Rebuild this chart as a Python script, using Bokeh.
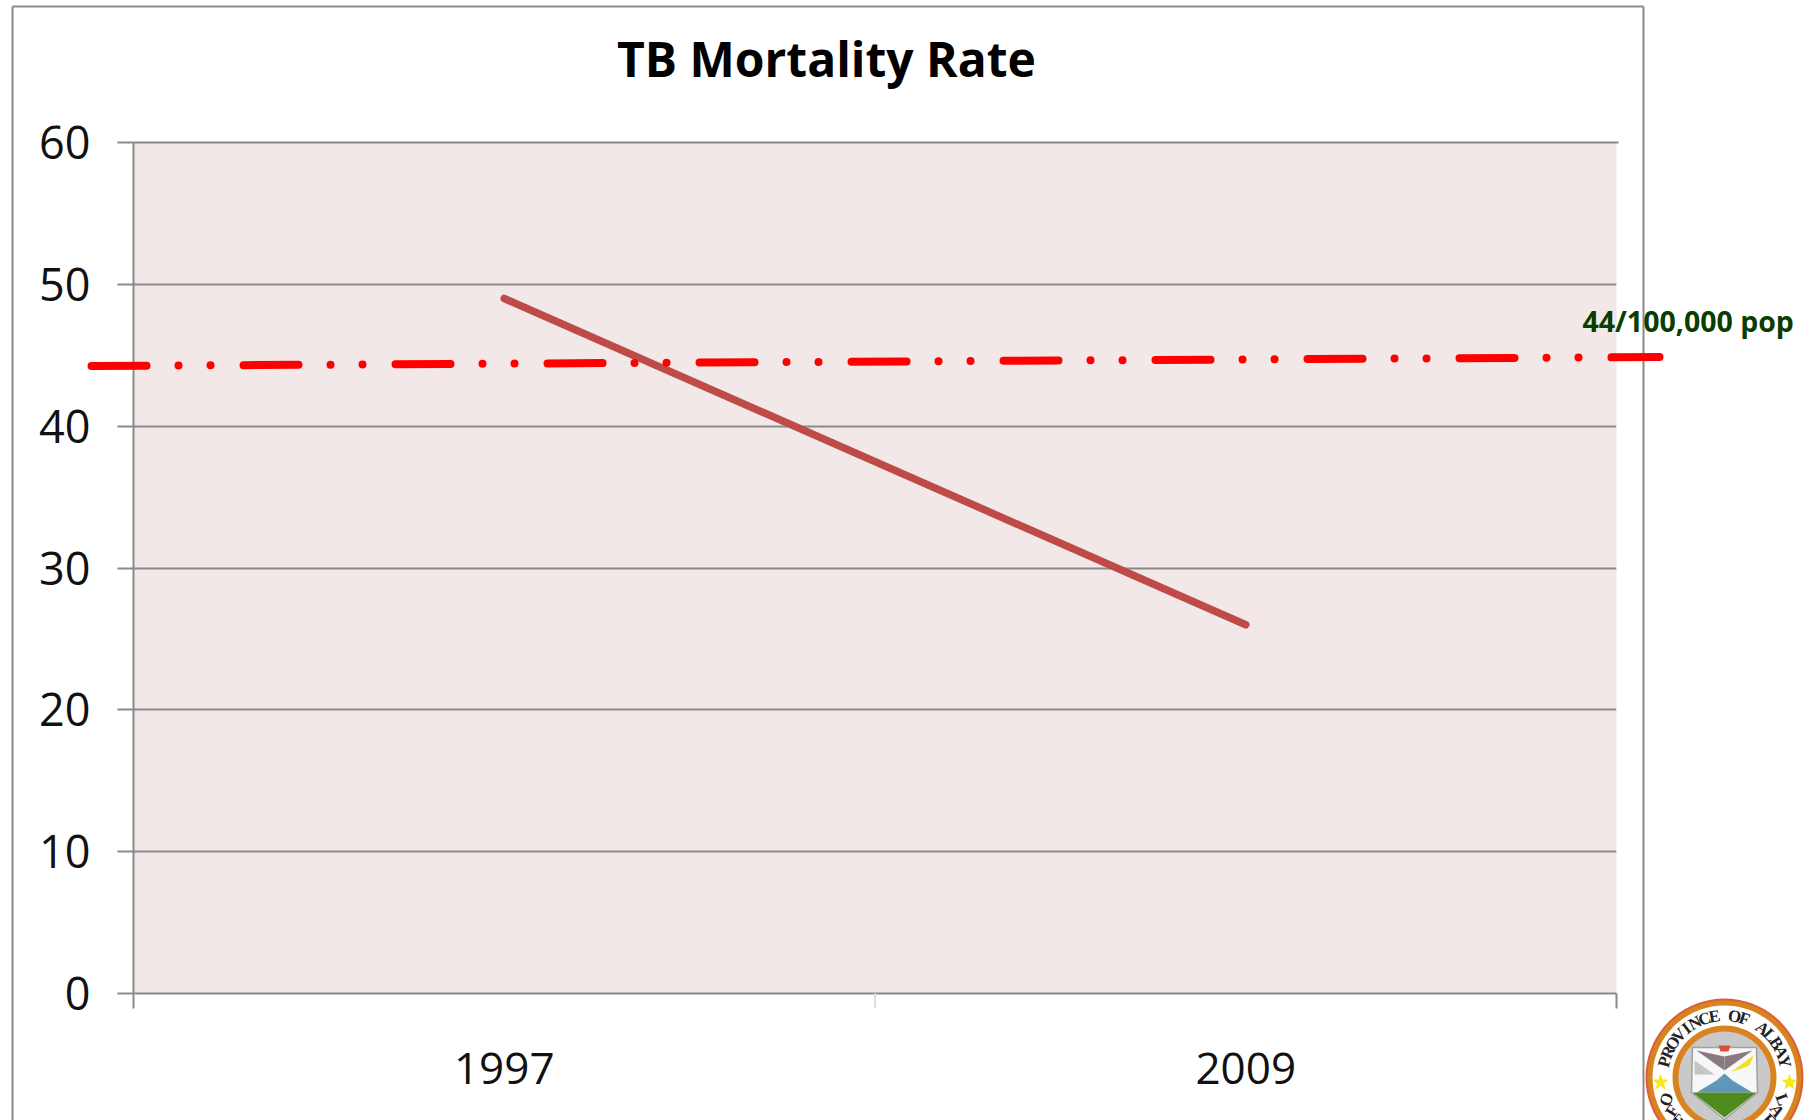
import math
from bokeh.plotting import figure
from bokeh.embed import file_html
from bokeh.resources import INLINE
from bokeh.core.properties import value
from bokeh.models import Range1d, FixedTicker

years = ["1997", "2009"]
mortality = [49, 26]
target_x = [-0.0566, 2.058]
target_y = [44.24, 44.87]
target_label = "44/100,000 pop"
y_ticks = [0, 10, 20, 30, 40, 50, 60]
title = "TB Mortality Rate"

W, H = 1805, 1120
GREY = "#8a8a8a"
L, R, T, B = 133, 1616, 142, 993
def dx(px): return (px - L) / ((R - L) / 2)
def dy(py): return (B - py) / ((B - T) / 60)

p = figure(width=W, height=H, output_backend="svg", toolbar_location=None,
           x_range=Range1d(0, 2), y_range=Range1d(0, 60),
           min_border_left=L, min_border_right=W - R, min_border_top=T, min_border_bottom=H - B,
           margin=0, background_fill_color="#f2e8e8", border_fill_color="white", outline_line_color=None)

xa = p.xaxis[0]
xa.ticker = FixedTicker(ticks=[0.5, 1.5], minor_ticks=[0, 2])
xa.major_label_overrides = {0.5: years[0], 1.5: years[1]}
xa.major_tick_line_color = None
xa.minor_tick_line_color = GREY
xa.minor_tick_line_width = 2
xa.minor_tick_out = 15
xa.minor_tick_in = 0
xa.axis_line_color = GREY
xa.axis_line_width = 2
xa.major_label_standoff = 44
xa.major_label_text_font = "Open Sans"
xa.major_label_text_font_size = "44px"
xa.major_label_text_color = "#111111"

ya = p.yaxis[0]
ya.ticker = FixedTicker(ticks=y_ticks)
ya.major_tick_out = 16
ya.major_tick_in = 0
ya.major_tick_line_color = GREY
ya.major_tick_line_width = 2
ya.minor_tick_line_color = None
ya.axis_line_color = GREY
ya.axis_line_width = 2
ya.major_label_standoff = 27
ya.major_label_text_font = "Open Sans"
ya.major_label_text_font_size = "45px"
ya.major_label_text_color = "#111111"

p.xgrid.visible = False
p.ygrid.ticker = FixedTicker(ticks=y_ticks)
p.ygrid.grid_line_color = GREY
p.ygrid.grid_line_width = 2

# top edge of the plot area, which the grid's clipping would halve
p.line([0, dx(R + 2)], [60, 60], line_color=GREY, line_width=2, level="overlay")

# outer panel
p.line([dx(12), dx(12)], [dy(1130), dy(6)], line_color=GREY, line_width=2, level="overlay")
p.line([dx(12), dx(1643)], [dy(6), dy(6)], line_color=GREY, line_width=2, level="overlay")
p.line([dx(1643), dx(1643)], [dy(6), dy(1130)], line_color=GREY, line_width=2, level="overlay")
# pale middle tick
p.line([1, 1], [0, dy(1008)], line_color="#dedede", line_width=2, level="overlay")

p.line([0.5, 1.5], mortality, line_color="#be4b48", line_width=7.5, line_cap="round")
p.line(target_x, target_y, line_color="#ff0000", line_width=8, line_cap="round",
       line_dash="55 32 0 32 0 33", level="overlay")

def text(px, py, s, font, size, color, style="normal", align="left", baseline="alphabetic", angle=0):
    p.text([dx(px)], [dy(py)], text=[s], text_font=value(font), text_font_size=value(size), text_color=color,
           text_font_style=style, text_align=align, text_baseline=baseline, angle=angle, angle_units="deg", level="overlay")

text(1582, 320, target_label, "Open Sans", "28.5px", "#0a3d00", "bold")
text(826, 58, title, "Open Sans", "48px", "#000000", "bold", "center")

cx, cy = 1724, 1077
def shape(points, fill, line=None, lw=1):
    p.patch([dx(cx + a) for a, b in points], [dy(cy + b) for a, b in points], fill_color=fill,
            line_color=line, line_width=lw, level="overlay")
def disc(r, fill, line=None, lw=1):
    pts = [i * 2 * math.pi / 72 for i in range(72)]
    shape([(r * math.cos(a), r * math.sin(a)) for a in pts], fill, line, lw)
disc(78, "#d98220", "#d9603a", 2)
disc(72, "#ffffff")
disc(52, "#d98220")
disc(46, "#c9c9c9")
shape([(-32, -30), (32, -30), (33, 15), (0, 42), (-33, 15)], "#f7f7f7", "#a0a0a0", 1.5)
shape([(-28, -27), (0, -21), (0, -7)], "#8a7a80")
shape([(28, -27), (0, -21), (0, -7)], "#8a7a80")
shape([(6, -5), (29, -22), (25, -12)], "#f2e020")
shape([(-30, -17), (-10, -3), (-30, -3)], "#c4c4c4")
shape([(-28, 15), (-8, 3), (0, -4), (8, 3), (28, 15)], "#5f97b8")
shape([(-32, 15), (32, 15), (0, 40)], "#4f8a1f")
shape([(-6, -32), (6, -32), (4, -26), (-4, -26)], "#d9503a")
for sx in (-64, 65):
    star = []
    for i in range(10):
        a = -math.pi / 2 + i * math.pi / 5
        r = 8.5 if i % 2 == 0 else 3.6
        star.append((sx + r * math.cos(a), 5 + r * math.sin(a)))
    shape(star, "#f7e818")

def arc(word, centre, span, sign):
    for i, ch in enumerate(word):
        if ch == " ":
            continue
        d = -span / 2 + span * (i + .5) / len(word)
        deg = centre + sign * d
        a = math.radians(deg)
        py = cy + 62 * math.sin(a)
        if py > H + 4:
            continue  # wholly below the edge of the page
        text(cx + 62 * math.cos(a), py, ch, "Liberation Serif", "17px", "#222222", "bold",
             "center", "middle", -d)
arc("PROVINCE OF ALBAY", -90, 160, 1)
arc("OFFICIAL SEAL", 90, 150, -1)

open("out.html", "w").write(file_html(p, INLINE))
